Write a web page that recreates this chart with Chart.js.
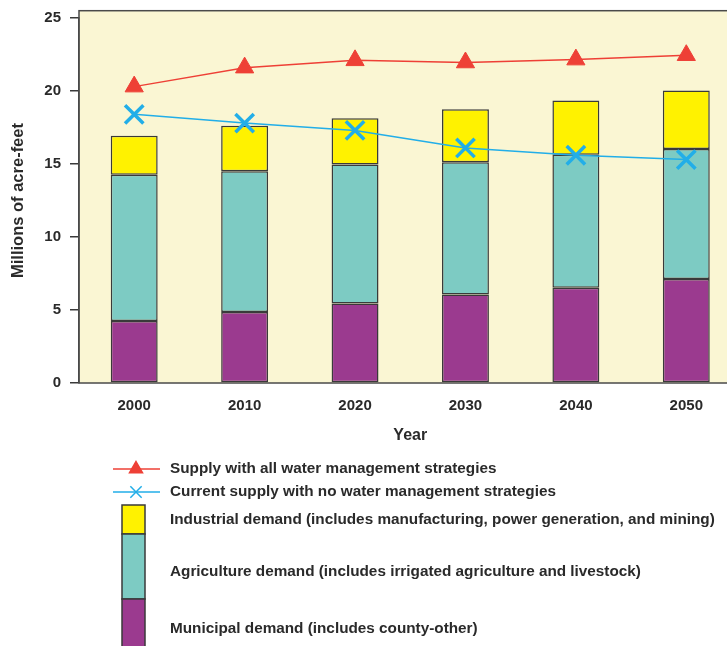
<!DOCTYPE html>
<html>
<head>
<meta charset="utf-8">
<script src="https://cdn.jsdelivr.net/npm/chart.js@4/dist/chart.umd.min.js"></script>
<style>
  html, body { margin: 0; padding: 0; background: #fff; overflow: hidden; }
  #wrap { width: 758px; height: 646px; }
</style>
</head>
<body>
<div id="wrap"><canvas id="water-chart" width="758" height="646"></canvas></div>
<script>
const years = ['2000', '2010', '2020', '2030', '2040', '2050'];
const municipal = [4.24, 4.86, 5.45, 6.06, 6.52, 7.13];
const agriculture = [10.02, 9.65, 9.51, 9.06, 9.12, 8.90];
const industrial = [2.68, 3.11, 3.18, 3.63, 3.71, 4.00];
const supplyAll = [20.3, 21.6, 22.1, 21.95, 22.15, 22.45];
const supplyCurrent = [18.4, 17.8, 17.3, 16.1, 15.6, 15.3];
const yTicks = [0, 5, 10, 15, 20, 25];
const frameTop = 25.5;   // the plot panel reaches a little above the 25 tick

const FONT = '"Liberation Sans", Arial, sans-serif';
const TEXT = '#2a2a2a';
const EDGE = '#3a3a3a';

// cream plot area with a dark frame
const plotFrame = {
  id: 'plotFrame',
  beforeDraw(chart) {
    const {ctx, chartArea: a} = chart;
    const top = chart.scales.y.getPixelForValue(frameTop);
    ctx.save();
    ctx.fillStyle = '#fff';
    ctx.fillRect(0, 0, chart.width, chart.height);
    ctx.fillStyle = '#faf6d3';
    ctx.fillRect(a.left, top, a.right - a.left, a.bottom - top);
    ctx.restore();
  },
  beforeDatasetsDraw(chart) {
    const {ctx, chartArea: a} = chart;
    const top = chart.scales.y.getPixelForValue(frameTop);
    ctx.save();
    ctx.strokeStyle = '#4a4a4a';
    ctx.lineWidth = 1.5;
    ctx.strokeRect(a.left, top, a.right - a.left, a.bottom - top);
    ctx.restore();
  }
};

// legend drawn under the chart: two line entries, then a stacked key
const stackLegend = {
  id: 'stackLegend',
  afterDraw(chart) {
    const ctx = chart.ctx;
    const ds = chart.data.datasets;
    ctx.save();
    ctx.font = 'bold 15.3px ' + FONT;
    ctx.textBaseline = 'middle';

    [[ds[3], 469, 7.5], [ds[4], 492, 8]].forEach(([d, y, r]) => {
      ctx.strokeStyle = d.borderColor;
      ctx.lineWidth = 1.5;
      ctx.beginPath();
      ctx.moveTo(113, y);
      ctx.lineTo(160, y);
      ctx.stroke();
      ctx.fillStyle = d.pointBackgroundColor;
      ctx.strokeStyle = d.pointBorderColor;
      Chart.helpers.drawPoint(ctx, {pointStyle: d.pointStyle, radius: r, borderWidth: d.pointStyle === 'crossRot' ? 2.5 : 1, rotation: 0}, 136, y);
      ctx.fillStyle = TEXT;
      ctx.fillText(d.label, 170, y);
    });

    const boxes = [[ds[2], 505, 534, 520], [ds[1], 534, 599, 572], [ds[0], 599, 660, 629]];
    boxes.forEach(([d, y0, y1, ty]) => {
      ctx.fillStyle = d.backgroundColor;
      ctx.fillRect(122, y0, 23, y1 - y0);
      ctx.strokeStyle = EDGE;
      ctx.lineWidth = 1.5;
      ctx.strokeRect(122, y0, 23, y1 - y0);
      ctx.fillStyle = TEXT;
      ctx.fillText(d.label, 170, ty);
    });
    ctx.restore();
  }
};

const barStyle = {
  stack: 'demand',
  borderColor: EDGE,
  borderWidth: 1.5,
  borderSkipped: false,
  barPercentage: 0.425,
  categoryPercentage: 1,
  order: 2
};

new Chart(document.getElementById('water-chart'), {
  type: 'bar',
  data: {
    labels: years,
    datasets: [
      Object.assign({label: 'Municipal demand (includes county-other)', data: municipal, backgroundColor: '#9b3a8f'}, barStyle),
      Object.assign({label: 'Agriculture demand (includes irrigated agriculture and livestock)', data: agriculture, backgroundColor: '#7dcbc3'}, barStyle),
      Object.assign({label: 'Industrial demand (includes manufacturing, power generation, and mining)', data: industrial, backgroundColor: '#fff200'}, barStyle),
      {
        type: 'line',
        label: 'Supply with all water management strategies',
        data: supplyAll,
        stack: 'all',
        borderColor: '#ee4036',
        borderWidth: 1.5,
        pointStyle: 'triangle',
        pointRadius: 10.5,
        pointBackgroundColor: '#ee4036',
        pointBorderColor: '#ee4036',
        pointBorderWidth: 1,
        order: 0
      },
      {
        type: 'line',
        label: 'Current supply with no water management strategies',
        data: supplyCurrent,
        stack: 'current',
        borderColor: '#22aee8',
        borderWidth: 1.5,
        pointStyle: 'crossRot',
        pointRadius: 13,
        pointBackgroundColor: '#22aee8',
        pointBorderColor: '#22aee8',
        pointBorderWidth: 3.5,
        order: 1
      }
    ]
  },
  options: {
    responsive: false,
    animation: false,
    devicePixelRatio: 1,
    layout: {padding: {left: 0, top: 9.5, right: 0, bottom: 201}},
    plugins: {legend: {display: false}, tooltip: {enabled: false}},
    scales: {
      x: {
        stacked: true,
        afterFit: s => { s.height = 62; },
        grid: {display: false, drawTicks: false},
        border: {display: false},
        ticks: {color: TEXT, padding: 14, font: {family: FONT, size: 15, weight: 'bold'}},
        title: {display: true, text: 'Year', color: TEXT, padding: {top: 0, bottom: 0}, font: {family: FONT, size: 16, weight: 'bold'}}
      },
      y: {
        stacked: true,
        min: 0,
        max: 25,
        afterFit: s => { s.width = 79; },
        afterBuildTicks: s => { s.ticks = yTicks.map(v => ({value: v})); },
        grid: {drawOnChartArea: false, drawTicks: true, tickLength: 9, color: EDGE, lineWidth: 1.5},
        border: {display: true, color: '#4a4a4a', width: 1.5},
        ticks: {color: TEXT, padding: 9, font: {family: FONT, size: 15, weight: 'bold'}},
        title: {display: true, text: 'Millions of acre-feet', color: TEXT, padding: {top: 9, bottom: 0}, font: {family: FONT, size: 16.5, weight: 'bold'}}
      }
    }
  },
  plugins: [plotFrame, stackLegend]
});
</script>
</body>
</html>
